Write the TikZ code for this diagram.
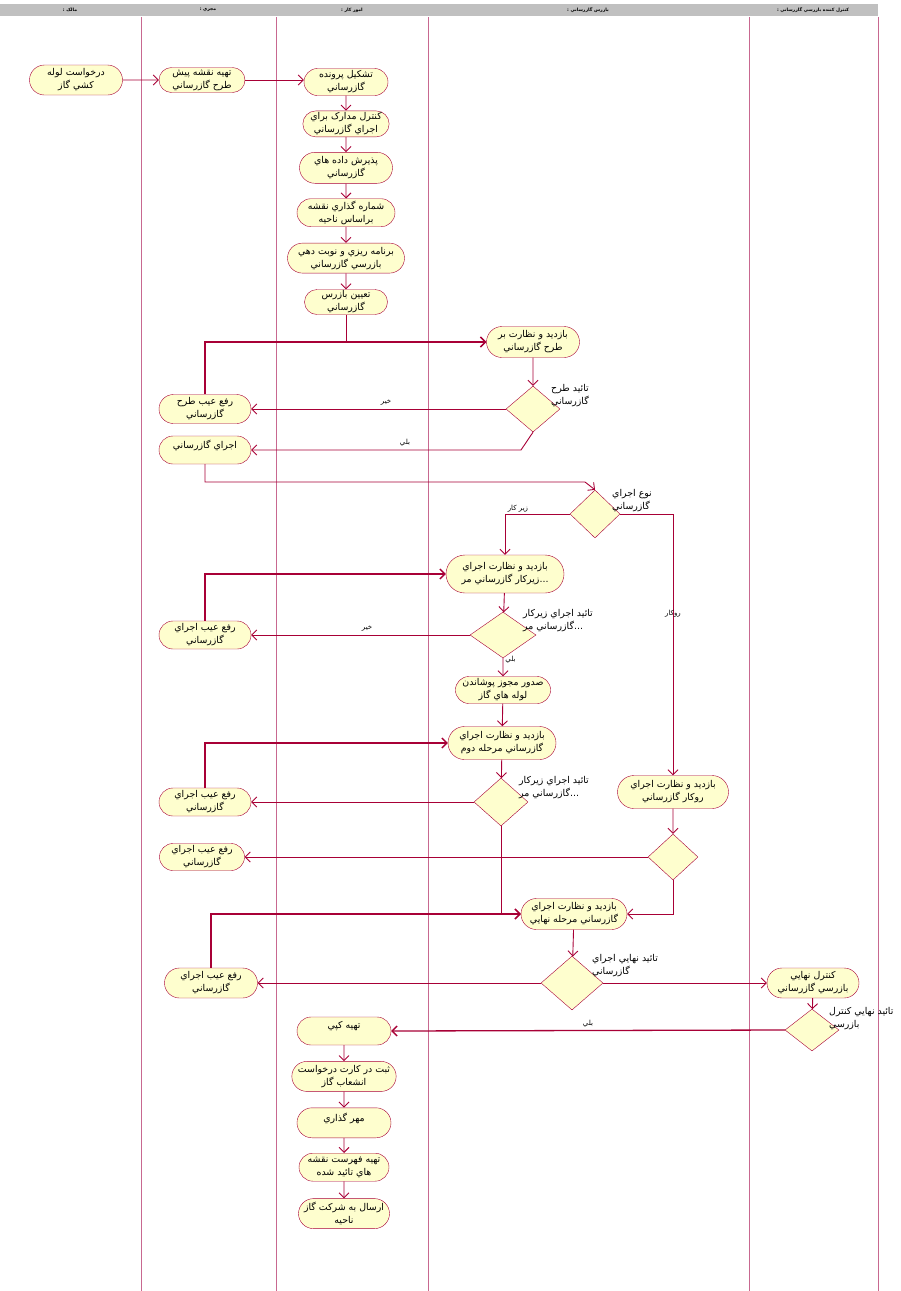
\documentclass[tikz,border=0pt]{standalone}
\usepackage{fontspec}
\usepackage{tikz}
\usetikzlibrary{arrows.meta,calc,
                shapes,positioning}
\newfontfamily\arabicfont[Script=Arabic]{DejaVu Sans}
\TeXXeTstate=1
\definecolor{flowred}{HTML}{A80036}
\definecolor{actfill}{HTML}{FEFECE}
\definecolor{lanepink}{HTML}{C86890}
\definecolor{headgray}{HTML}{C0C0C0}
\newcommand{\fa}[1]{\beginR #1\endR}

\begin{document}
\begin{tikzpicture}[x = 1pt, y = -1pt]
  \tikzset{act/.style = {shape = rounded rectangle, draw = flowred, fill = actfill, align = center, inner sep = 1pt, minimum width = 90, minimum height = 28, font = \arabicfont\fontsize{9.4}{13}\selectfont}}
  \tikzset{choice/.style = {shape = diamond, draw = flowred, fill = actfill, inner sep = 0pt, minimum width = 54, minimum height = 46}}
  \tikzset{toptext/.style = {text depth = 12pt}}
  \tikzset{flow/.style = {draw = flowred, line width = 0.9pt, -{Straight Barb[length = 5pt, width = 10pt]}}}
  \tikzset{back/.style = {flow, line width = 1.3pt}}
  \tikzset{lane/.style = {draw = lanepink, line width = 0.9pt}}
  \tikzset{elabel/.style = {font = \arabicfont\fontsize{7}{8}\selectfont, inner sep = 1pt}}
  \tikzset{dlabel/.style = {font = \arabicfont\fontsize{9.4}{13}\selectfont, align = left, inner sep = 0pt, anchor = north west}}
  \tikzset{head/.style = {font = \arabicfont\bfseries\fontsize{4.5}{5}\selectfont, inner sep = 0pt}}

  \useasboundingbox (0,0) rectangle (901,1291);

  % swim lanes
  \fill[headgray] (0,4) rectangle (878,16);
  \foreach \x in {141,276,428,749,878}
    \draw[lane] (\x,17) -- (\x,1291);
  \node[head] (HOwner) at (70,10) {\fa{مالک :}};
  \node[head] (HContractor) at (208,10) {\fa{مجري :}};
  \node[head] (HAffairs) at (352,10) {\fa{امور کار :}};
  \node[head] (HInspector) at (588,10) {\fa{بازرس گازرساني :}};
  \node[head] (HControl) at (813,10) {\fa{کنترل کننده بازرسي گازرساني :}};

  % request and first checks
  \node[act, minimum width = 95, minimum height = 30] (Request) at (76,80) {\fa{درخواست لوله}\\\fa{کشي گاز}};
  \node[act, minimum width = 88, minimum height = 25] (Draft) at (202,80) {\fa{تهيه نقشه پيش}\\\fa{طرح گازرساني}};
  \node[act, minimum width = 86, minimum height = 27] (Form) at (346,82) {\fa{تشکيل پرونده}\\\fa{گازرساني}};
  \node[act, minimum width = 86, minimum height = 26, below = 15pt of Form] (Docs) {\fa{کنترل مدارک براي}\\\fa{اجراي گازرساني}};
  \node[act, minimum width = 95, minimum height = 31, below = 15pt of Docs] (Accept) {\fa{پذيرش داده هاي}\\\fa{گازرساني}};
  \node[act, minimum width = 100, minimum height = 28, below = 15pt of Accept] (Number) {\fa{شماره گذاري نقشه}\\\fa{براساس ناحيه}};
  \node[act, minimum width = 119, minimum height = 30, below = 16pt of Number] (Plan) {\fa{برنامه ريزي و نوبت دهي}\\\fa{بازرسي گازرساني}};
  \node[act, minimum width = 85, minimum height = 25, below = 16pt of Plan] (Assign) {\fa{تعيين بازرس}\\\fa{گازرساني}};

  % design check
  \node[act, minimum width = 95, minimum height = 31] (Visit1) at (533,342) {\fa{بازديد و نظارت بر}\\\fa{طرح گازرساني}};
  \node[choice] (Dec1) at (533,409) {};
  \node[dlabel] (Dec1Text) at (551,384) {\fa{تائيد طرح}\\\fa{گازرساني}};
  \node[act, minimum width = 94, minimum height = 29] (Fix1) at (205,409) {\fa{رفع عيب طرح}\\\fa{گازرساني}};
  \node[act, toptext, minimum width = 94, minimum height = 28] (Exec) at (205,450) {\fa{اجراي گازرساني}};
  \coordinate (Dec1Bend) at (521,450);
  \coordinate (ExecBend) at (585,482);

  % type of work
  \node[choice, minimum width = 50, minimum height = 48] (Type) at (595,514) {};
  \node[dlabel] (TypeText) at (612,489) {\fa{نوع اجراي}\\\fa{گازرساني}};

  % under-ground branch
  \node[act, minimum width = 120, minimum height = 38] (Visit2) at (505,574) {\fa{بازديد و نظارت اجراي}\\\fa{زيرکار گازرساني مر}...};
  \node[choice, minimum width = 66] (Dec2) at (503,635) {};
  \node[dlabel] (Dec2Text) at (523,609) {\fa{تائيد اجراي زيرکار}\\\fa{گازرساني مر}...};
  \node[act, minimum width = 94, minimum height = 28] (Fix2) at (205,635) {\fa{رفع عيب اجراي}\\\fa{گازرساني}};
  \node[act, minimum width = 92, minimum height = 27] (Permit) at (503,690) {\fa{صدور مجوز پوشاندن}\\\fa{لوله هاي گاز}};
  \node[act, minimum width = 110, minimum height = 33] (Visit3) at (502,743) {\fa{بازديد و نظارت اجراي}\\\fa{گازرساني مرحله دوم}};
  \node[choice, minimum height = 48] (Dec3) at (501,802) {};
  \node[dlabel] (Dec3Text) at (519,776) {\fa{تائيد اجراي زيرکار}\\\fa{گازرساني مر}...};
  \node[act, minimum width = 94, minimum height = 28] (Fix3) at (205,802) {\fa{رفع عيب اجراي}\\\fa{گازرساني}};

  % over-ground branch
  \node[act, minimum width = 113, minimum height = 33] (Visit4) at (673,792) {\fa{بازديد و نظارت اجراي}\\\fa{روکار گازرساني}};
  \node[choice, minimum width = 50] (Dec4) at (673,857) {};
  \node[act, minimum width = 87, minimum height = 27] (Fix4) at (202,857) {\fa{رفع عيب اجراي}\\\fa{گازرساني}};

  % final check
  \node[act, minimum width = 108, minimum height = 31] (Visit5) at (574,914) {\fa{بازديد و نظارت اجراي}\\\fa{گازرساني مرحله نهايي}};
  \node[choice, minimum width = 62, minimum height = 54] (Dec5) at (572,983) {};
  \node[dlabel] (Dec5Text) at (592,954) {\fa{تائيد نهايي اجراي}\\\fa{گازرساني}};
  \node[act, minimum width = 95, minimum height = 30] (Fix5) at (211,983) {\fa{رفع عيب اجراي}\\\fa{گازرساني}};
  \node[act, minimum width = 94, minimum height = 30] (FinalCtrl) at (813,983) {\fa{کنترل نهايي}\\\fa{بازرسي گازرساني}};
  \node[choice, minimum height = 42] (Dec6) at (812,1030) {};
  \node[dlabel] (Dec6Text) at (829,1007) {\fa{تائيد نهايي کنترل}\\\fa{بازرسي}};

  % closing steps
  \node[act, toptext, minimum width = 96, minimum height = 28] (Copy) at (344,1031) {\fa{تهيه کپي}};
  \node[act, minimum width = 103, minimum height = 30, below = 16pt of Copy] (Register) {\fa{ثبت در کارت درخواست}\\\fa{انشعاب گاز}};
  \node[act, toptext, minimum width = 96, minimum height = 30, below = 16pt of Register] (Stamp) {\fa{مهر گذاري}};
  \node[act, minimum width = 92, minimum height = 28, below = 15pt of Stamp] (List) {\fa{تهيه فهرست نقشه}\\\fa{هاي تائيد شده}};
  \node[act, minimum width = 93, minimum height = 30, below = 17pt of List] (Send) {\fa{ارسال به شرکت گاز}\\\fa{ناحيه}};

  % connectors
  \draw[flow] (Request) -- (Draft);
  \draw[flow] (Draft.east) -- (Draft.east -| Form.west);
  \draw[flow] (Form) -- (Docs);
  \draw[flow] (Docs) -- (Accept);
  \draw[flow] (Accept) -- (Number);
  \draw[flow] (Number) -- (Plan);
  \draw[flow] (Plan) -- (Assign);
  \draw[flow] (Assign.south) |- (Visit1.west);
  \draw[back] (Fix1.north) |- (Visit1.west);
  \draw[flow] (Visit1) -- (Dec1);
  \draw[flow] (Dec1.west) -- node[elabel, above = 2pt, pos = 0.47] {\fa{خير}} (Fix1.east);
  \draw[flow] (Dec1.south) -- (Dec1Bend) -- node[elabel, above = 2pt, pos = 0.43] {\fa{بلي}} (Exec.east);
  \draw[flow] (Exec.south) |- (ExecBend) -- (Type.north);
  \draw[flow] (Type.west) -| node[elabel, above, pos = 0.4] {\fa{زير کار}} (Visit2.north);
  \draw[flow] (Type.east) -| node[elabel, pos = 0.69] {\fa{روکار}} (Visit4.north);

  \draw[flow] (Visit2) -- (Dec2);
  \draw[flow] (Dec2.west) -- node[elabel, above = 2pt, pos = 0.47] {\fa{خير}} (Fix2.east);
  \draw[back] (Fix2.north) |- (Visit2.west);
  \draw[flow] (Dec2.south) -- node[elabel, right = 1pt, pos = 0.1] {\fa{بلي}} (Permit);
  \draw[flow] (Permit) -- (Visit3);
  \draw[flow] (Visit3) -- (Dec3);
  \draw[flow] (Dec3.west) -- (Fix3.east);
  \draw[back] (Fix3.north) |- (Visit3.west);
  \draw[flow] (Dec3.south) |- (Visit5.west);

  \draw[flow] (Visit4) -- (Dec4);
  \draw[flow] (Dec4.west) -- (Fix4.east);
  \draw[flow] (Dec4.south) |- (Visit5.east);

  \draw[back] (Fix5.north) |- (Visit5.west);
  \draw[flow] (Visit5) -- (Dec5);
  \draw[flow] (Dec5.west) -- (Fix5.east);
  \draw[flow] (Dec5.east) -- (FinalCtrl.west);
  \draw[flow] (FinalCtrl) -- (Dec6);
  \draw[back] (Dec6.west) -- node[elabel, above = 2pt, pos = 0.5] {\fa{بلي}} (Copy.east);
  \draw[flow] (Copy) -- (Register);
  \draw[flow] (Register) -- (Stamp);
  \draw[flow] (Stamp) -- (List);
  \draw[flow] (List) -- (Send);

\end{tikzpicture}
\end{document}
